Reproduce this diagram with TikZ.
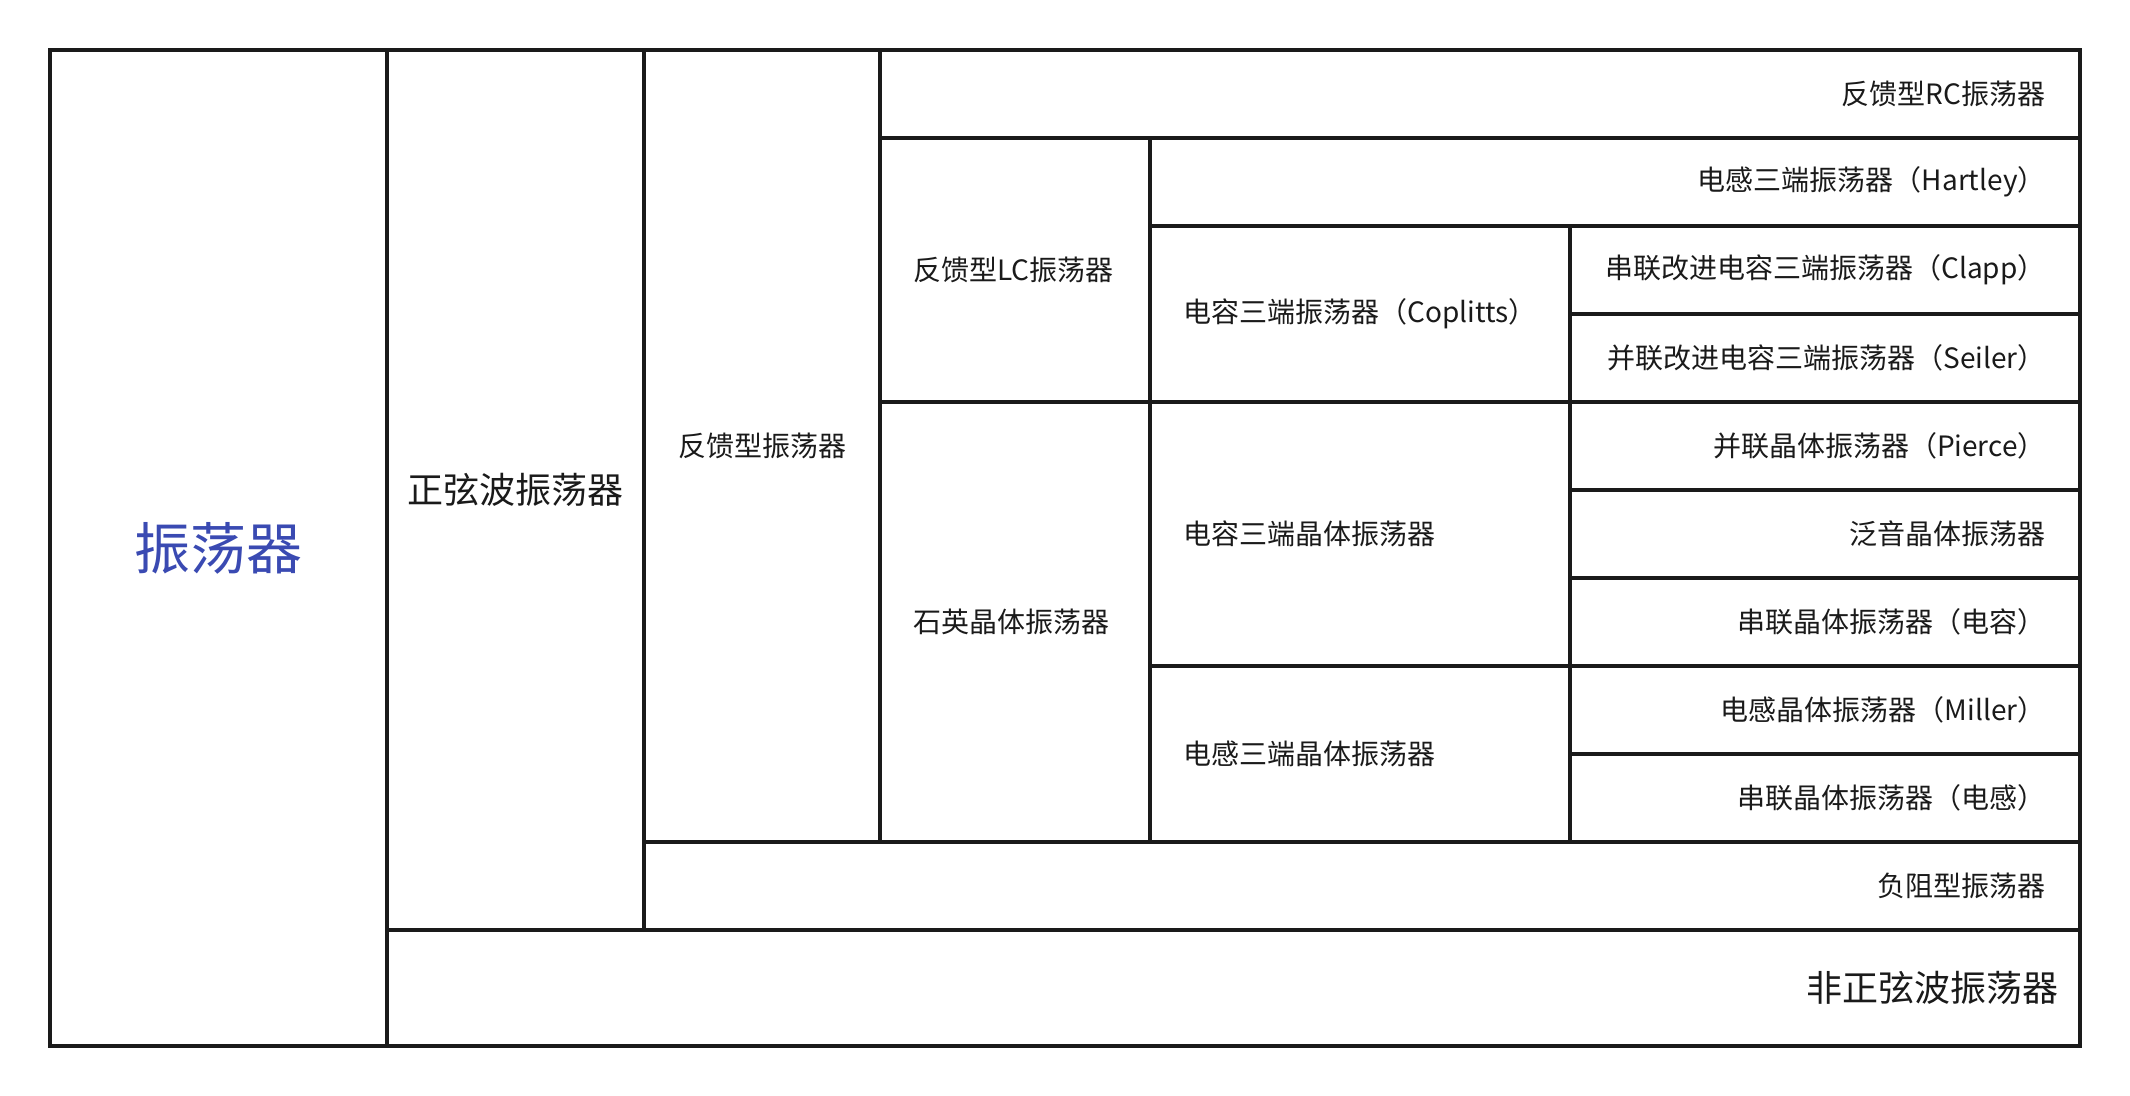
\documentclass[tikz,border=0pt]{standalone}
\usepackage{fontspec}
\setmainfont{Noto Sans CJK SC}
\definecolor{rootblue}{HTML}{3A4AB2}
\definecolor{inkgray}{HTML}{1A1A1A}
\tikzset{
  grid/.style={line width=1.6pt, draw=inkgray, line cap=rect, line join=miter},
  leaf/.style={inner sep=0pt, text=inkgray, font=\fontsize{14}{17}\selectfont},
  mid/.style={inner sep=0pt, text=inkgray, font=\fontsize{18}{21}\selectfont},
}
\begin{document}
\begin{tikzpicture}[x=0.5pt, y=-0.5pt]
 			\useasboundingbox (0,0) rectangle (2130,1096);
 			% frame and columns
 			\draw[grid] (50,50) rectangle (2080,1046);
 			\draw[grid] (387,50)--(387,1046) (644,50)--(644,930) (880,50)--(880,842)
 			(1150,138)--(1150,842) (1570,226)--(1570,842);
 			% rows
 			\draw[grid] (880,138)--(2080,138) (1150,226)--(2080,226) (880,402)--(2080,402)
 			(1150,666)--(2080,666) (644,842)--(2080,842) (387,930)--(2080,930);
 			\foreach \y in {314,490,578,754}
 			\draw[grid] (1570,\y)--(2080,\y);
 			% labels
 			\node[inner sep=0pt, text=rootblue, font=\fontsize{28}{32}\selectfont] (osc) at (218.5,548) {振荡器};
 			\node[mid] (sine) at (515.5,490) {正弦波振荡器};
 			\node[mid, anchor=east] (nonsine) at (2059,988) {非正弦波振荡器};
 			\node[leaf, anchor=west] (fb) at (678,446) {反馈型振荡器};
 			\node[leaf, anchor=east] (negr) at (2046,886) {负阻型振荡器};
 			\node[leaf, anchor=east] (rc) at (2046,94) {反馈型RC振荡器};
 			\node[leaf, anchor=west] (lc) at (913,270) {反馈型LC振荡器};
 			\node[leaf, anchor=west] (quartz) at (913,622) {石英晶体振荡器};
 			\node[leaf, anchor=east] (hartley) at (2046,182) {电感三端振荡器（Hartley）};
 			\node[leaf, anchor=west] (colpitts) at (1183,314) {电容三端振荡器（Coplitts）};
 			\node[leaf, anchor=east] (clapp) at (2046,270) {串联改进电容三端振荡器（Clapp）};
 			\node[leaf, anchor=east] (seiler) at (2046,358) {并联改进电容三端振荡器（Seiler）};
 			\node[leaf, anchor=west] (capxtal) at (1183,534) {电容三端晶体振荡器};
 			\node[leaf, anchor=west] (indxtal) at (1183,754) {电感三端晶体振荡器};
 			\node[leaf, anchor=east] (pierce) at (2046,446) {并联晶体振荡器（Pierce）};
 			\node[leaf, anchor=east] (overtone) at (2046,534) {泛音晶体振荡器};
 			\node[leaf, anchor=east] (sercap) at (2046,622) {串联晶体振荡器（电容）};
 			\node[leaf, anchor=east] (miller) at (2046,710) {电感晶体振荡器（Miller）};
 			\node[leaf, anchor=east] (serind) at (2046,798) {串联晶体振荡器（电感）};
 			\end{tikzpicture}
\end{document}
